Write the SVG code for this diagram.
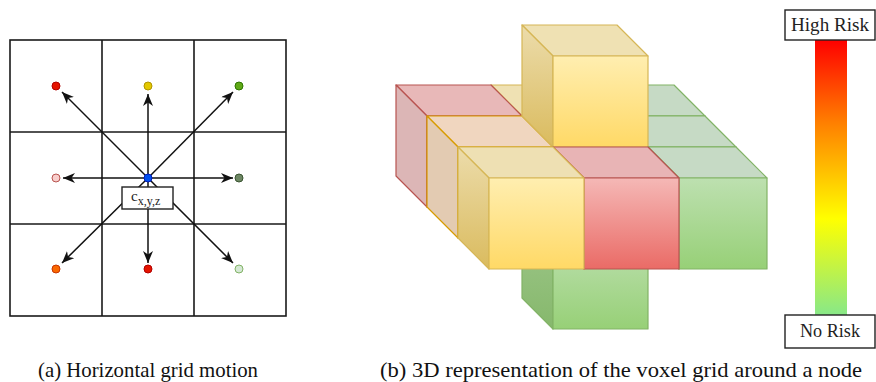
<svg xmlns="http://www.w3.org/2000/svg" width="876" height="382" viewBox="0 0 876 382">
<style>
.grid{fill:none;stroke:#1a1a1a;stroke-width:1.6}
.arr{stroke:#111;stroke-width:1.5;fill:none;marker-end:url(#ah)}
.lbl{font-family:"Liberation Serif","Times New Roman",serif;fill:#222}
.cap{font-family:"Liberation Serif","Times New Roman",serif;font-size:21px;fill:#111}
.box{fill:#fff;stroke:#222;stroke-width:1.4}
.ys{stroke:#d6b656;stroke-width:1.2;stroke-linejoin:round}
.rs{stroke:#b85450;stroke-width:1.2;stroke-linejoin:round}
.gs{stroke:#82b366;stroke-width:1.2;stroke-linejoin:round}
.os{stroke:#d79b00;stroke-width:1.2;stroke-linejoin:round}
</style>
<defs>
<marker id="ah" markerUnits="userSpaceOnUse" markerWidth="13" markerHeight="11" refX="12" refY="5" orient="auto">
<path d="M0,0 L12,5 L0,10 L3.5,5 Z" fill="#111"/>
</marker>
<linearGradient id="gY" x1="0" y1="0" x2="0" y2="1"><stop offset="0" stop-color="#ffeeb0"/><stop offset="1" stop-color="#ffd966"/></linearGradient>
<linearGradient id="gYL" x1="0" y1="0" x2="0" y2="1"><stop offset="0" stop-color="#ecdcab"/><stop offset="1" stop-color="#dabb5e"/></linearGradient>
<linearGradient id="gR" x1="0" y1="0" x2="0" y2="1"><stop offset="0" stop-color="#f5b8b6"/><stop offset="1" stop-color="#ea6b66"/></linearGradient>
<linearGradient id="gG" x1="0" y1="0" x2="0" y2="1"><stop offset="0" stop-color="#bde0b0"/><stop offset="1" stop-color="#97d077"/></linearGradient>
<linearGradient id="gGL" x1="0" y1="0" x2="0" y2="1"><stop offset="0" stop-color="#a2c98f"/><stop offset="1" stop-color="#86b86c"/></linearGradient>
<linearGradient id="gBar" x1="0" y1="0" x2="0" y2="1"><stop offset="0" stop-color="#ff0000"/><stop offset="0.3" stop-color="#ff7f00"/><stop offset="0.65" stop-color="#ffff00"/><stop offset="1" stop-color="#88e888"/></linearGradient>
</defs>
<rect width="876" height="382" fill="#fff"/>

<!-- (a) grid -->
<g id="grid">
<rect class="grid" x="10" y="40" width="276" height="276"/>
<path class="grid" d="M102,40V316M194,40V316M10,132H286M10,224H286"/>
</g>
<g id="connectors">
<line class="arr" x1="148" y1="178" x2="62" y2="92"/>
<line class="arr" x1="148" y1="178" x2="148" y2="94"/>
<line class="arr" x1="148" y1="178" x2="233" y2="92"/>
<line class="arr" x1="148" y1="178" x2="63" y2="178"/>
<line class="arr" x1="148" y1="178" x2="233" y2="178"/>
<line class="arr" x1="148" y1="178" x2="62" y2="263"/>
<line class="arr" x1="148" y1="178" x2="148" y2="263"/>
<line class="arr" x1="148" y1="178" x2="233" y2="263"/>
</g>
<g id="dot-tl"><circle cx="56" cy="86" r="4" fill="#e51400" stroke="#b20000"/></g>
<g id="dot-t"><circle cx="148" cy="86" r="4" fill="#e3c800" stroke="#b09500"/></g>
<g id="dot-tr"><circle cx="239" cy="86" r="4" fill="#60a917" stroke="#2d7600"/></g>
<g id="dot-l"><circle cx="56" cy="178" r="4" fill="#f8cecc" stroke="#b85450"/></g>
<g id="dot-r"><circle cx="239" cy="178" r="4" fill="#6d8764" stroke="#3a5431"/></g>
<g id="dot-bl"><circle cx="56" cy="269" r="4" fill="#fa6800" stroke="#c73500"/></g>
<g id="dot-b"><circle cx="148" cy="269" r="4" fill="#e51400" stroke="#b20000"/></g>
<g id="dot-br"><circle cx="239" cy="269" r="4" fill="#d5e8d4" stroke="#82b366"/></g>
<g id="label-c">
<rect class="box" x="122" y="187" width="51" height="22"/>
<text class="lbl" x="131" y="201" font-size="15">c<tspan font-size="12" dy="4">x,y,z</tspan></text>
</g>
<g id="dot-center"><circle cx="148" cy="178" r="4" fill="#0050ef" stroke="#001dbc"/></g>

<!-- (b) voxels -->
<g id="voxel-back-right">
<polygon class="gs" fill="#c6dac5" points="617,116 705,116 674,85 586,85"/>
<polygon class="gs" fill="url(#gGL)" points="617,116 586,85 586,176 617,207"/>
<rect class="gs" x="617" y="116" width="88" height="91" fill="url(#gG)"/>
</g>
<g id="voxel-back-center">
<polygon class="ys" fill="#efe1b3" points="522,116 617,116 586,85 491,85"/>
<polygon class="ys" fill="url(#gYL)" points="522,116 491,85 491,176 522,207"/>
<rect class="ys" x="522" y="116" width="95" height="91" fill="url(#gY)"/>
</g>
<g id="voxel-back-left">
<polygon class="rs" fill="#e8b8b8" points="427,116 522,116 491,85 396,85"/>
<polygon class="rs" fill="#dcb6b6" points="427,116 396,85 396,176 427,207"/>
<rect class="rs" x="427" y="116" width="95" height="91" fill="url(#gR)"/>
</g>
<g id="voxel-bottom">
<polygon class="gs" fill="#c6dac5" points="553,238 648,238 617,207 522,207"/>
<polygon class="gs" fill="url(#gGL)" points="553,238 522,207 522,298 553,329"/>
<rect class="gs" x="553" y="238" width="95" height="91" fill="url(#gG)"/>
</g>
<g id="voxel-mid-right">
<polygon class="gs" fill="#c6dac5" points="648,147 736,147 705,116 617,116"/>
<polygon class="gs" fill="url(#gGL)" points="648,147 617,116 617,207 648,238"/>
<rect class="gs" x="648" y="147" width="88" height="91" fill="url(#gG)"/>
</g>
<g id="voxel-mid-left">
<polygon class="os" fill="#f0d6bf" points="458,147 553,147 522,116 427,116"/>
<polygon class="os" fill="#e3cbb2" points="458,147 427,116 427,207 458,238"/>
<rect class="os" x="458" y="147" width="95" height="91" fill="#f6dcc2"/>
</g>
<g id="voxel-top">
<polygon class="ys" fill="#efe1b3" points="553,56 648,56 617,25 522,25"/>
<polygon class="ys" fill="url(#gYL)" points="553,56 522,25 522,116 553,147"/>
<rect class="ys" x="553" y="56" width="95" height="91" fill="url(#gY)"/>
</g>
<g id="voxel-front-right">
<polygon class="gs" fill="#c6dac5" points="679,178 767,178 736,147 648,147"/>
<polygon class="gs" fill="url(#gGL)" points="679,178 648,147 648,238 679,269"/>
<rect class="gs" x="679" y="178" width="88" height="91" fill="url(#gG)"/>
</g>
<g id="voxel-front-center">
<polygon class="rs" fill="#e8b4b5" points="584,178 679,178 648,147 553,147"/>
<polygon class="rs" fill="#dcb6b6" points="584,178 553,147 553,238 584,269"/>
<rect class="rs" x="584" y="178" width="95" height="91" fill="url(#gR)"/>
</g>
<g id="voxel-front-left">
<polygon class="ys" fill="#eee0b3" points="489,178 584,178 553,147 458,147"/>
<polygon class="ys" fill="url(#gYL)" points="489,178 458,147 458,238 489,269"/>
<rect class="ys" x="489" y="178" width="95" height="91" fill="url(#gY)"/>
</g>

<!-- risk bar -->
<g id="risk-bar"><rect x="815" y="40" width="32" height="275" fill="url(#gBar)"/></g>
<g id="high-risk">
<rect class="box" x="785" y="10" width="90" height="30"/>
<text class="lbl" x="830" y="31" font-size="18.5" text-anchor="middle" textLength="78" lengthAdjust="spacingAndGlyphs">High Risk</text>
</g>
<g id="no-risk">
<rect class="box" x="785" y="315" width="90" height="33"/>
<text class="lbl" x="830" y="337" font-size="18.5" text-anchor="middle" textLength="60" lengthAdjust="spacingAndGlyphs">No Risk</text>
</g>

<text class="cap" x="38" y="377" textLength="220" lengthAdjust="spacingAndGlyphs">(a) Horizontal grid motion</text>
<text class="cap" x="380" y="377" textLength="482" lengthAdjust="spacingAndGlyphs">(b) 3D representation of the voxel grid around a node</text>
</svg>
